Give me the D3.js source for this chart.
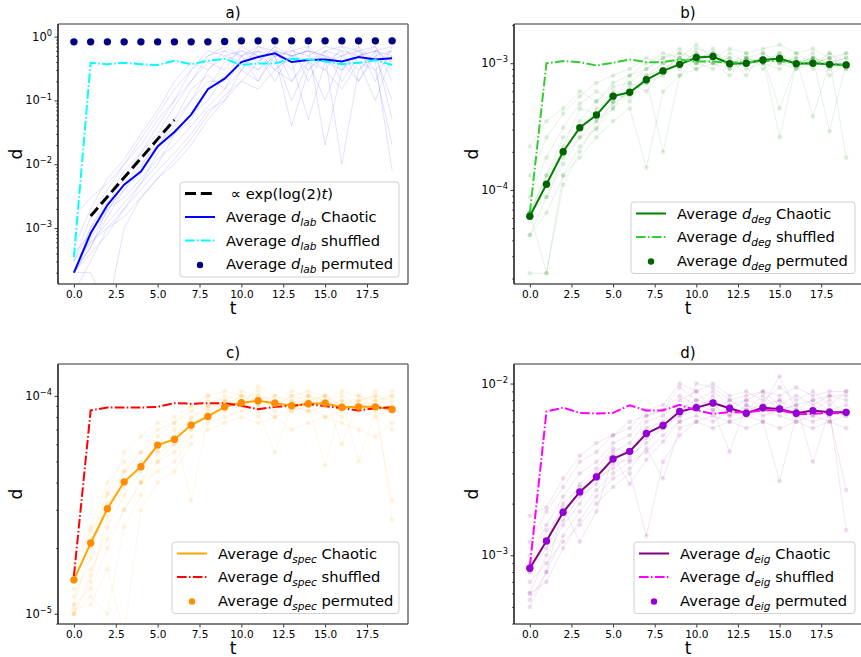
<!DOCTYPE html>
<html>
<head>
<meta charset="utf-8">
<script src="https://cdn.jsdelivr.net/npm/d3@7/dist/d3.min.js"></script>
<style>
  body { margin: 0; background: #fff; }
  text { font-family: "DejaVu Sans", sans-serif; fill: #000; white-space: pre; }
</style>
</head>
<body>
<div id="plot"></div>
<script>
// time steps and ticks
const tSteps = [0, 1, 2, 3, 4, 5, 6, 7, 8, 9, 10, 11, 12, 13, 14, 15, 16, 17, 18, 19];
const xTicks = [0, 2.5, 5, 7.5, 10, 12.5, 15, 17.5];
const panelTitles = ["a)", "b)", "c)", "d)"];
const distNames = ["lab", "deg", "spec", "eig"];

// a) label distance
const labChaotic = [2.0e-4, 8.3e-4, 2.3e-3, 4.8e-3, 7.7e-3, 1.9e-2, 3.2e-2, 6.0e-2, 0.15, 0.22,
                    0.40, 0.48, 0.55, 0.40, 0.43, 0.44, 0.41, 0.48, 0.44, 0.46];
const labShuffled = [3.5e-4, 0.39, 0.37, 0.39, 0.37, 0.36, 0.42, 0.37, 0.42, 0.45,
                     0.36, 0.38, 0.38, 0.45, 0.44, 0.41, 0.37, 0.39, 0.43, 0.36];
const labPermuted = [0.83, 0.83, 0.83, 0.83, 0.83, 0.83, 0.83, 0.83, 0.83, 0.84,
                     0.86, 0.86, 0.86, 0.86, 0.86, 0.86, 0.86, 0.86, 0.86, 0.86];
const labGuideT = [1, 2, 3, 4, 5, 6];
const labGuide = [1.55e-3, 3.1e-3, 6.2e-3, 1.24e-2, 2.48e-2, 4.96e-2];
const labRuns = [
  [2e-4, 5e-4, 1.5e-3, 4e-3, 9e-3, 2.5e-2, 5e-2, 0.1, 0.3, 0.5, 0.6, 0.4, 0.7, 0.5, 0.3, 0.6, 0.5, 0.7, 0.4, 0.6],
  [2e-4, 1e-3, 3e-3, 8e-3, 1.5e-2, 3e-2, 8e-2, 0.2, 0.4, 0.3, 0.7, 0.5, 0.2, 0.6, 0.7, 0.4, 0.3, 0.5, 0.7, 0.3],
  [4e-4, 8e-4, 2e-3, 3e-3, 6e-3, 1.2e-2, 2e-2, 4e-2, 8e-2, 0.15, 0.3, 0.6, 0.5, 0.1, 0.4, 0.6, 0.2, 0.5, 0.6, 0.5],
  [2e-4, 6e-4, 1.2e-3, 2.5e-3, 5e-3, 1e-2, 3e-2, 6e-2, 0.1, 0.25, 0.5, 0.7, 0.6, 0.3, 0.7, 0.02, 0.3, 0.6, 0.4, 0.008],
  [3e-4, 1.5e-3, 4e-3, 1e-2, 2e-2, 5e-2, 0.1, 0.3, 0.5, 0.6, 0.3, 0.7, 0.5, 0.6, 0.5, 0.7, 0.6, 0.2, 0.6, 0.7],
  [2e-4, 4e-4, 8e-4, 2e-3, 4e-3, 8e-3, 1.5e-2, 3e-2, 7e-2, 0.1, 0.2, 0.4, 0.7, 0.2, 0.5, 0.3, 0.7, 0.4, 0.1, 0.5],
  [5e-4, 2e-3, 6e-3, 1.2e-2, 3e-2, 7e-2, 0.2, 0.4, 0.3, 0.6, 0.5, 0.2, 0.6, 0.5, 0.6, 0.4, 0.6, 0.5, 0.6, 0.4],
  [2e-4, 7e-4, 1.8e-3, 5e-3, 1e-2, 2e-2, 4e-2, 0.1, 0.2, 0.2, 0.4, 0.3, 0.5, 0.04, 0.3, 0.5, 0.4, 0.2, 0.5, 0.1],
  [1e-4, 3e-4, 1e-3, 2e-3, 5e-3, 1.5e-2, 3e-2, 5e-2, 0.15, 0.4, 0.6, 0.5, 0.3, 0.5, 0.6, 0.5, 0.01, 0.3, 0.5, 0.6],
  [3e-4, 1e-3, 2.5e-3, 6e-3, 1.5e-2, 4e-2, 0.1, 0.2, 0.5, 0.7, 0.5, 0.6, 0.4, 0.7, 0.2, 0.6, 0.7, 0.6, 0.3, 0.5],
  [2e-4, 5e-4, 2e-3, 4e-3, 7e-3, 1.8e-2, 5e-2, 0.15, 0.25, 0.15, 0.5, 0.3, 0.6, 0.5, 0.4, 0.1, 0.5, 0.6, 0.7, 0.2],
  [1.5e-3, 3e-3, 5e-3, 1e-2, 2.5e-2, 6e-2, 0.15, 0.3, 0.6, 0.5, 0.4, 0.6, 0.3, 0.5, 0.6, 0.5, 0.3, 0.7, 0.2, 0.7],
  [2e-4, 2e-4, 5e-5, 1e-3, 3e-3, 6e-3, 1e-2, 2e-2, 5e-2, 0.1, 0.3, 0.2, 0.5, 0.4, 0.05, 0.4, 0.5, 0.3, 0.6, 0.05],
  [3e-4, 6e-4, 1e-3, 1.5e-3, 3e-3, 6e-3, 1.2e-2, 2.5e-2, 6e-2, 0.12, 0.2, 0.15, 0.3, 0.2, 0.4, 0.3, 0.15, 0.4, 0.3, 0.02]
];

// b) degree distance
const degChaotic = [6.2e-5, 1.11e-4, 2.0e-4, 3.1e-4, 3.9e-4, 5.5e-4, 5.9e-4, 7.4e-4, 8.7e-4, 9.8e-4,
                    1.11e-3, 1.13e-3, 9.9e-4, 1.0e-3, 1.06e-3, 1.09e-3, 9.9e-4, 1.0e-3, 9.8e-4, 9.7e-4];
const degShuffled = [6.6e-5, 1.0e-3, 1.04e-3, 1.02e-3, 9.6e-4, 1.01e-3, 1.07e-3, 1.02e-3, 1.02e-3, 1.07e-3,
                     1.03e-3, 1.03e-3, 1.01e-3, 1.02e-3, 1.04e-3, 1.04e-3, 1.0e-3, 1.01e-3, 9.9e-4, 9.7e-4];
const degPermuted = [6.2e-5, 1.11e-4, 2.0e-4, 3.1e-4, 3.9e-4, 5.5e-4, 5.9e-4, 7.4e-4, 8.7e-4, 9.8e-4,
                     1.11e-3, 1.13e-3, 9.9e-4, 1.0e-3, 1.06e-3, 1.09e-3, 9.9e-4, 1.0e-3, 9.8e-4, 9.7e-4];
const degRuns = [
  [6.6e-5, 1.3e-4, 2.6e-4, 3.5e-4, 5e-4, 6.5e-4, 7e-4, 9e-4, 1.1e-3, 1.2e-3, 1.0e-3, 1.3e-3, 9e-4, 1.1e-3, 1.0e-3, 1.2e-3, 9e-4, 1.1e-3, 1.0e-3, 1.1e-3],
  [4.4e-5, 8.8e-5, 1.8e-4, 2.6e-4, 3.5e-4, 4.8e-4, 6e-4, 7e-4, 8e-4, 1.0e-3, 1.2e-3, 1.0e-3, 1.1e-3, 8e-4, 1.2e-3, 1.0e-3, 1.1e-3, 9e-4, 1.2e-3, 9e-4],
  [6.6e-5, 1.1e-4, 2.2e-4, 4.4e-4, 4e-4, 6e-4, 5e-4, 8e-4, 1.0e-3, 9e-4, 1.3e-3, 1.2e-3, 1.0e-3, 1.2e-3, 9e-4, 1.1e-3, 1.0e-3, 1.2e-3, 8e-4, 1.0e-3],
  [2.2e-5, 2.2e-5, 1.3e-4, 2.2e-4, 3.1e-4, 5e-4, 7e-4, 6e-4, 9e-4, 1.1e-3, 1.0e-3, 9e-4, 1.2e-3, 1.0e-3, 1.1e-3, 4.4e-4, 1.0e-3, 1.1e-3, 1.0e-3, 1.2e-3],
  [8.8e-5, 1.8e-4, 3.1e-4, 4.8e-4, 6e-4, 5e-4, 8e-4, 1.0e-3, 1.2e-3, 1.1e-3, 9e-4, 1.1e-3, 1.0e-3, 1.1e-3, 1.2e-3, 1.0e-3, 9e-4, 1.0e-3, 1.1e-3, 9e-4],
  [6.6e-5, 8.8e-5, 1.6e-4, 2.6e-4, 3e-4, 4.4e-4, 6.6e-4, 7.5e-4, 2e-4, 8e-4, 1.1e-3, 1.0e-3, 9e-4, 1.0e-3, 1.1e-3, 1.0e-3, 1.1e-3, 3.8e-4, 1.0e-3, 1.1e-3],
  [1.3e-4, 2.6e-4, 4e-4, 5.5e-4, 7e-4, 8e-4, 9e-4, 1.1e-3, 1.0e-3, 1.2e-3, 1.1e-3, 1.2e-3, 1.1e-3, 9e-4, 1.0e-3, 1.2e-3, 1.0e-3, 1.1e-3, 9e-4, 1.0e-3],
  [4.4e-5, 6.6e-5, 1.3e-4, 1.8e-4, 2.6e-4, 3.5e-4, 4.4e-4, 1.5e-4, 6e-4, 8e-4, 9e-4, 1.0e-3, 8e-4, 1.1e-3, 1.0e-3, 9e-4, 1.2e-3, 1.0e-3, 1.1e-3, 1.8e-4],
  [6.6e-5, 1.3e-4, 2e-4, 3.1e-4, 4.4e-4, 5.5e-4, 5.5e-4, 8e-4, 9e-4, 1.0e-3, 1.2e-3, 1.1e-3, 1.0e-3, 1.0e-3, 1.1e-3, 2.6e-4, 1.0e-3, 1.1e-3, 2.9e-4, 1.0e-3],
  [2.2e-4, 3.5e-4, 4.4e-4, 6e-4, 5e-4, 7e-4, 8e-4, 9e-4, 1.1e-3, 1.3e-3, 1.0e-3, 1.2e-3, 1.0e-3, 1.1e-3, 1.0e-3, 1.1e-3, 1.0e-3, 1.0e-3, 1.2e-3, 1.0e-3],
  [6.6e-5, 2.2e-5, 1.1e-4, 2e-4, 3.5e-4, 4.4e-4, 6e-4, 7e-4, 8.8e-4, 1.1e-3, 1.4e-3, 1.1e-3, 1.3e-3, 1.2e-3, 1.3e-3, 1.4e-3, 1.2e-3, 1.3e-3, 1.1e-3, 1.2e-3]
];

// c) spectral distance
const specChaotic = [1.43e-5, 2.11e-5, 3.03e-5, 4.03e-5, 4.73e-5, 5.94e-5, 6.31e-5, 7.34e-5, 8.04e-5, 8.9e-5,
                     9.3e-5, 9.5e-5, 9.25e-5, 9.0e-5, 9.2e-5, 9.25e-5, 8.87e-5, 8.9e-5, 8.9e-5, 8.65e-5];
const specShuffled = [1.49e-5, 8.57e-5, 8.85e-5, 8.85e-5, 8.83e-5, 8.9e-5, 9.25e-5, 9.2e-5, 9.25e-5, 9.25e-5,
                      9.0e-5, 8.68e-5, 8.9e-5, 9.0e-5, 9.15e-5, 8.97e-5, 8.78e-5, 8.57e-5, 8.78e-5, 8.87e-5];
const specPermuted = [1.43e-5, 2.11e-5, 3.03e-5, 4.03e-5, 4.73e-5, 5.94e-5, 6.31e-5, 7.34e-5, 8.04e-5, 8.9e-5,
                      9.3e-5, 9.5e-5, 9.25e-5, 9.0e-5, 9.2e-5, 9.25e-5, 8.87e-5, 8.9e-5, 8.9e-5, 8.65e-5];
const specRuns = [
  [1.0e-5, 1.5e-5, 2.5e-5, 3.5e-5, 4.5e-5, 6e-5, 6.5e-5, 8e-5, 9e-5, 1.0e-4, 9.5e-5, 1.05e-4, 9e-5, 1.0e-4, 9.5e-5, 1.0e-4, 9e-5, 9.5e-5, 1.0e-4, 9.5e-5],
  [1.1e-5, 2e-5, 3e-5, 4.5e-5, 5.5e-5, 6.5e-5, 7.5e-5, 8.5e-5, 9.5e-5, 9e-5, 1.0e-4, 9e-5, 9.5e-5, 8.5e-5, 1.0e-4, 9e-5, 8e-5, 9.5e-5, 9e-5, 1.0e-4],
  [1.5e-5, 2.5e-5, 4e-5, 5e-5, 4e-5, 5.5e-5, 6e-5, 7e-5, 8.5e-5, 9.5e-5, 1.05e-4, 1.0e-4, 8.5e-5, 9.5e-5, 9e-5, 4.8e-5, 9.5e-5, 8.5e-5, 9e-5, 9e-5],
  [1.0e-5, 1.2e-5, 1.0e-5, 2.5e-5, 3.5e-5, 5e-5, 5.5e-5, 7e-5, 8e-5, 8.5e-5, 9e-5, 8e-5, 9.5e-5, 9e-5, 8.5e-5, 9e-5, 9.5e-5, 5e-5, 8.5e-5, 3.3e-5],
  [1.2e-5, 1.8e-5, 3.5e-5, 4.5e-5, 5.5e-5, 7e-5, 7.5e-5, 9e-5, 1.0e-4, 9.5e-5, 9e-5, 1.1e-4, 1.0e-4, 9.5e-5, 1.0e-4, 9.5e-5, 1.0e-4, 9e-5, 9.5e-5, 9e-5],
  [1.3e-5, 1.6e-5, 2.2e-5, 3e-5, 4e-5, 4.5e-5, 5e-5, 6.5e-5, 7.5e-5, 8e-5, 8.5e-5, 9e-5, 8e-5, 8.5e-5, 9e-5, 8e-5, 8.5e-5, 9e-5, 8e-5, 7e-5],
  [1.0e-5, 1.4e-5, 2.8e-5, 3.8e-5, 5e-5, 6e-5, 7e-5, 3.3e-5, 8e-5, 9e-5, 1.0e-4, 9.5e-5, 9e-5, 1.0e-4, 1.05e-4, 1.0e-4, 9e-5, 1.0e-4, 9.5e-5, 1.0e-4],
  [1.7e-5, 2.4e-5, 3.2e-5, 4e-5, 4.8e-5, 5.6e-5, 6.5e-5, 7.8e-5, 8.8e-5, 9.5e-5, 9e-5, 9.5e-5, 1.0e-4, 9e-5, 9.5e-5, 1.0e-4, 6e-5, 9.5e-5, 1.0e-4, 2.7e-5],
  [1.1e-5, 1.3e-5, 2e-5, 3e-5, 4e-5, 5e-5, 6e-5, 7.5e-5, 9e-5, 9e-5, 9.5e-5, 8.5e-5, 5.5e-5, 9e-5, 8.5e-5, 9e-5, 9e-5, 8.5e-5, 1.05e-4, 8.5e-5],
  [1.4e-5, 2.2e-5, 3.6e-5, 5.5e-5, 6.5e-5, 7.5e-5, 8e-5, 9e-5, 1.0e-4, 1.05e-4, 1.0e-4, 1.0e-4, 9.5e-5, 1.05e-4, 1.0e-4, 9.5e-5, 1.05e-4, 1.0e-4, 9e-5, 1.05e-4],
  [1.05e-5, 1.1e-5, 1.6e-5, 8e-6, 3e-5, 4e-5, 4.5e-5, 6e-5, 7e-5, 7.5e-5, 8e-5, 7.5e-5, 8e-5, 7e-5, 7.5e-5, 8e-5, 7.5e-5, 7e-5, 6.5e-5, 7.5e-5]
];

// d) eigenvalue distance
const eigChaotic = [8.4e-4, 1.21e-3, 1.78e-3, 2.34e-3, 2.86e-3, 3.64e-3, 4.03e-3, 5.12e-3, 5.7e-3, 6.87e-3,
                    7.24e-3, 7.71e-3, 7.18e-3, 6.72e-3, 7.24e-3, 7.11e-3, 6.72e-3, 6.96e-3, 6.81e-3, 6.8e-3];
const eigShuffled = [8.6e-4, 6.87e-3, 7.24e-3, 6.75e-3, 6.69e-3, 6.75e-3, 7.48e-3, 6.96e-3, 6.99e-3, 7.51e-3,
                     6.99e-3, 6.66e-3, 6.81e-3, 6.8e-3, 6.99e-3, 6.99e-3, 6.66e-3, 6.66e-3, 6.75e-3, 6.69e-3];
const eigPermuted = [8.4e-4, 1.21e-3, 1.78e-3, 2.34e-3, 2.86e-3, 3.64e-3, 4.03e-3, 5.12e-3, 5.7e-3, 6.87e-3,
                     7.24e-3, 7.71e-3, 7.18e-3, 6.72e-3, 7.24e-3, 7.11e-3, 6.72e-3, 6.96e-3, 6.81e-3, 6.8e-3];
const eigRuns = [
  [8e-4, 1.2e-3, 2e-3, 2.5e-3, 3e-3, 4e-3, 4.5e-3, 6e-3, 6.5e-3, 8e-3, 9e-3, 7e-3, 8e-3, 7e-3, 8.5e-3, 7e-3, 7.5e-3, 8e-3, 7e-3, 7.5e-3],
  [6e-4, 1e-3, 1.5e-3, 2e-3, 2.8e-3, 3.2e-3, 3.8e-3, 4.5e-3, 5.5e-3, 6.5e-3, 7e-3, 8.5e-3, 6.5e-3, 7.5e-3, 7e-3, 8e-3, 6.5e-3, 7e-3, 8e-3, 6.5e-3],
  [1e-3, 1.5e-3, 2.2e-3, 3e-3, 3.5e-3, 4.5e-3, 5e-3, 6.5e-3, 7e-3, 9.5e-3, 8e-3, 9e-3, 7.5e-3, 8e-3, 9e-3, 7.5e-3, 8.5e-3, 7.5e-3, 8.5e-3, 8e-3],
  [5e-4, 8e-4, 1.3e-3, 1.8e-3, 2.4e-3, 3e-3, 3.5e-3, 4e-3, 5e-3, 6e-3, 6.5e-3, 6e-3, 7e-3, 6.5e-3, 6e-3, 2.7e-3, 6.5e-3, 6e-3, 6.5e-3, 2.4e-3],
  [9e-4, 1.4e-3, 1.8e-3, 2.6e-3, 3.2e-3, 4.2e-3, 4e-3, 5.5e-3, 6e-3, 7e-3, 8e-3, 7.5e-3, 6.5e-3, 7e-3, 7.5e-3, 8e-3, 7e-3, 6.5e-3, 7e-3, 7e-3],
  [7e-4, 9e-4, 1.2e-3, 1.5e-3, 2e-3, 2.5e-3, 3e-3, 1.3e-3, 3.5e-3, 5e-3, 6e-3, 6.5e-3, 6e-3, 6.5e-3, 7e-3, 6.5e-3, 6e-3, 6.5e-3, 6e-3, 6.5e-3],
  [1.2e-3, 1.8e-3, 2.5e-3, 3.5e-3, 4e-3, 5e-3, 5.5e-3, 7e-3, 7.5e-3, 1e-2, 9e-3, 1e-2, 8.5e-3, 9e-3, 8e-3, 9.5e-3, 8e-3, 9e-3, 7.5e-3, 9e-3],
  [8e-4, 1.1e-3, 1.6e-3, 2.2e-3, 2.6e-3, 3.4e-3, 3.6e-3, 4.8e-3, 5.5e-3, 6.5e-3, 7.5e-3, 7e-3, 4e-3, 7.5e-3, 6.5e-3, 7e-3, 7.5e-3, 3.5e-3, 7e-3, 1.4e-3],
  [1.7e-3, 1.9e-3, 2.8e-3, 3.8e-3, 4.5e-3, 5e-3, 6e-3, 6.5e-3, 7e-3, 8.5e-3, 7.5e-3, 8e-3, 7e-3, 8e-3, 7.5e-3, 1.1e-2, 7e-3, 8e-3, 8.5e-3, 8.5e-3],
  [6e-4, 7e-4, 1.1e-3, 1.6e-3, 2.2e-3, 2.8e-3, 3.2e-3, 4.2e-3, 2.8e-3, 5.5e-3, 6e-3, 5.5e-3, 6e-3, 5.5e-3, 6e-3, 5.5e-3, 6e-3, 5.5e-3, 6e-3, 5.5e-3],
  [5.5e-4, 8e-4, 1.9e-3, 1.2e-3, 1.8e-3, 3.8e-3, 2.6e-3, 3.6e-3, 4.6e-3, 6e-3, 1e-2, 9.5e-3, 8e-3, 8.5e-3, 9e-3, 8.5e-3, 9.5e-3, 8.5e-3, 9e-3, 9e-3]
];

const svg = d3.select("#plot")
  .append("svg")
  .attr("width", 861)
  .attr("height", 657);

var panels = [
  {left: 58, right: 408, top: 24, bottom: 284, yDomain: [1.33e-4, 1.58],
   runs: labRuns, runMarkers: false, runColor: "blue",
   chaotic: labChaotic, shuffled: labShuffled, permuted: labPermuted,
   cChaotic: "blue", cShuffled: "cyan", cPermuted: "navy",
   legend: {x: 180, y: 182, w: 219, guide: true}},
  {left: 514, right: 862, top: 24, bottom: 284, yDomain: [1.81e-5, 2.04e-3],
   runs: degRuns, runMarkers: true, runColor: "green",
   chaotic: degChaotic, shuffled: degShuffled, permuted: degPermuted,
   cChaotic: "green", cShuffled: "limegreen", cPermuted: "darkgreen",
   legend: {x: 631, y: 202, w: 224}},
  {left: 58, right: 408, top: 364, bottom: 624, yDomain: [8.97e-6, 1.4e-4],
   runs: specRuns, runMarkers: true, runColor: "orange",
   chaotic: specChaotic, shuffled: specShuffled, permuted: specPermuted,
   cChaotic: "orange", cShuffled: "red", cPermuted: "darkorange",
   legend: {x: 172, y: 542, w: 227}},
  {left: 514, right: 862, top: 364, bottom: 624, yDomain: [3.98e-4, 1.30e-2],
   runs: eigRuns, runMarkers: true, runColor: "purple",
   chaotic: eigChaotic, shuffled: eigShuffled, permuted: eigPermuted,
   cChaotic: "purple", cShuffled: "magenta", cPermuted: "darkviolet",
   legend: {x: 634, y: 542, w: 221}}
];

const dashDot = "9.6,2.4,1.5,2.4";
const legendFont = 14.7;

// writes text with italic / sub / superscript pieces
function richText(sel, parts, base) {
  var shift = 0;
  parts.forEach(function(p) {
    var ts = sel.append("tspan").text(p.t);
    var want = p.sub ? base * 0.28 : (p.sup ? -base * 0.42 : 0);
    if (want !== shift) { ts.attr("dy", want - shift); shift = want; }
    if (p.sub || p.sup) ts.attr("font-size", base * 0.72);
    if (p.it) ts.attr("font-style", "italic");
  });
}

function drawPanel(p, i) {
  var x = d3.scaleLinear().domain([-0.95, 19.95]).range([p.left, p.right]);
  var y = d3.scaleLog().domain(p.yDomain).range([p.bottom, p.top]);
  var line = d3.line().x(function(d, j) { return x(tSteps[j]); }).y(function(d) { return y(d); });

  var g = svg.append("g");
  g.append("clipPath").attr("id", "clip" + i)
    .append("rect")
    .attr("x", p.left).attr("y", p.top)
    .attr("width", p.right - p.left).attr("height", p.bottom - p.top);

  var plot = g.append("g").attr("clip-path", "url(#clip" + i + ")");

  // individual runs
  p.runs.forEach(function(r) {
    plot.append("path")
      .attr("d", line(r))
      .attr("fill", "none")
      .attr("stroke", p.runColor)
      .attr("stroke-opacity", i === 0 ? 0.12 : 0.1)
      .attr("stroke-width", 1);
    if (p.runMarkers) {
      plot.append("g").selectAll("circle")
        .data(r)
        .enter()
        .append("circle")
          .attr("cx", function(d, j) { return x(tSteps[j]); })
          .attr("cy", function(d) { return y(d); })
          .attr("r", 2.3)
          .attr("fill", p.runColor)
          .attr("fill-opacity", 0.13);
    }
  });

  if (i === 0) {
    var guideLine = d3.line().x(function(d, j) { return x(labGuideT[j]); }).y(function(d) { return y(d); });
    plot.append("path")
      .attr("d", guideLine(labGuide))
      .attr("fill", "none")
      .attr("stroke", "black")
      .attr("stroke-width", 3)
      .attr("stroke-dasharray", "11,4.8");
  }

  plot.append("path")
    .attr("d", line(p.chaotic))
    .attr("fill", "none")
    .attr("stroke", p.cChaotic)
    .attr("stroke-width", 2);

  plot.append("path")
    .attr("d", line(p.shuffled))
    .attr("fill", "none")
    .attr("stroke", p.cShuffled)
    .attr("stroke-width", 2)
    .attr("stroke-dasharray", dashDot);

  plot.append("g").selectAll("circle")
    .data(p.permuted)
    .enter()
    .append("circle")
      .attr("cx", function(d, j) { return x(tSteps[j]); })
      .attr("cy", function(d) { return y(d); })
      .attr("r", 3.7)
      .attr("fill", p.cPermuted);

  // x axis
  var xAxis = g.append("g")
    .attr("transform", "translate(0," + p.bottom + ")")
    .call(d3.axisBottom(x).tickValues(xTicks).tickFormat(d3.format(".1f")).tickSize(3.5).tickPadding(3));
  xAxis.select(".domain").remove();
  xAxis.selectAll("text").attr("font-size", 10.5).attr("font-family", "DejaVu Sans").attr("fill", "#000");
  xAxis.selectAll("line").attr("stroke", "#000").attr("stroke-width", 0.8);

  // y axis, minor and major ticks
  var lo = Math.ceil(Math.log10(p.yDomain[0])), hi = Math.floor(Math.log10(p.yDomain[1]));
  var majors = d3.range(lo, hi + 1).map(function(k) { return Math.pow(10, k); });
  var minors = [];
  d3.range(lo - 1, hi + 1).forEach(function(k) {
    [2, 3, 4, 5, 6, 7, 8, 9].forEach(function(m) {
      var v = m * Math.pow(10, k);
      if (v > p.yDomain[0] && v < p.yDomain[1]) minors.push(v);
    });
  });
  var yMinor = g.append("g")
    .attr("transform", "translate(" + p.left + ",0)")
    .call(d3.axisLeft(y).tickValues(minors).tickFormat("").tickSize(2));
  yMinor.select(".domain").remove();
  yMinor.selectAll("line").attr("stroke", "#000").attr("stroke-width", 0.6);
  var yMajor = g.append("g")
    .attr("transform", "translate(" + p.left + ",0)")
    .call(d3.axisLeft(y).tickValues(majors).tickFormat("").tickSize(3.5));
  yMajor.select(".domain").remove();
  yMajor.selectAll("line").attr("stroke", "#000").attr("stroke-width", 0.8);

  majors.forEach(function(v) {
    var k = Math.round(Math.log10(v));
    var t = g.append("text")
      .attr("x", p.left - 6)
      .attr("y", y(v) + 4)
      .attr("text-anchor", "end")
      .attr("font-size", 11.5);
    richText(t, [{t: "10"}, {t: k === 0 ? "0" : "\u2212" + (-k), sup: true}], 11.5);
  });

  // frame
  g.append("line").attr("x1", p.left).attr("x2", p.right).attr("y1", p.top).attr("y2", p.top)
    .attr("stroke", "#777").attr("stroke-width", 1.6);
  g.append("line").attr("x1", p.right).attr("x2", p.right).attr("y1", p.top).attr("y2", p.bottom)
    .attr("stroke", "#777").attr("stroke-width", 1.6);
  g.append("line").attr("x1", p.left).attr("x2", p.right).attr("y1", p.bottom).attr("y2", p.bottom)
    .attr("stroke", "#555").attr("stroke-width", 1.6);
  g.append("line").attr("x1", p.left).attr("x2", p.left).attr("y1", p.top).attr("y2", p.bottom)
    .attr("stroke", "#222").attr("stroke-width", 1.6);

  // titles
  g.append("text")
    .attr("x", (p.left + p.right) / 2)
    .attr("y", p.top - 6)
    .attr("text-anchor", "middle")
    .attr("font-size", 15)
    .text(panelTitles[i]);
  g.append("text")
    .attr("x", (p.left + p.right) / 2)
    .attr("y", p.bottom + 30)
    .attr("text-anchor", "middle")
    .attr("font-size", 17)
    .text("t");
  g.append("text")
    .attr("transform", "translate(" + (p.left - 36) + "," + ((p.top + p.bottom) / 2) + ") rotate(-90)")
    .attr("text-anchor", "middle")
    .attr("font-size", 17)
    .text("d");

  // legend
  var name = distNames[i];
  var entries = [];
  if (p.legend.guide) {
    entries.push({kind: "dash", color: "black",
      parts: [{t: " \u221D exp(log(2)"}, {t: "t", it: true}, {t: ")"}]});
  }
  entries.push({kind: "solid", color: p.cChaotic,
    parts: [{t: "Average "}, {t: "d", it: true}, {t: name, sub: true, it: true}, {t: " Chaotic"}]});
  entries.push({kind: "dashdot", color: p.cShuffled,
    parts: [{t: "Average "}, {t: "d", it: true}, {t: name, sub: true, it: true}, {t: " shuffled"}]});
  entries.push({kind: "dot", color: p.cPermuted,
    parts: [{t: "Average "}, {t: "d", it: true}, {t: name, sub: true, it: true}, {t: " permuted"}]});

  var L = p.legend, rowH = 23.5;
  var lg = g.append("g");
  lg.append("rect")
    .attr("x", L.x).attr("y", L.y)
    .attr("width", L.w).attr("height", entries.length * rowH + 1)
    .attr("rx", 3)
    .attr("fill", "white").attr("fill-opacity", 0.8)
    .attr("stroke", "#d0d0d0").attr("stroke-width", 1);
  entries.forEach(function(e, j) {
    var cy = L.y + 11.5 + j * rowH;
    if (e.kind === "dot") {
      lg.append("circle").attr("cx", L.x + 20).attr("cy", cy + 1).attr("r", 3.2).attr("fill", e.color);
    } else {
      var h = lg.append("line")
        .attr("x1", L.x + 5).attr("x2", L.x + 35).attr("y1", cy).attr("y2", cy)
        .attr("stroke", e.color)
        .attr("stroke-width", e.kind === "dash" ? 3 : 2);
      if (e.kind === "dash") h.attr("stroke-dasharray", "11,4.8");
      if (e.kind === "dashdot") h.attr("stroke-dasharray", dashDot);
    }
    var t = lg.append("text")
      .attr("x", L.x + 46)
      .attr("y", cy + 5)
      .attr("font-size", legendFont);
    richText(t, e.parts, legendFont);
  });
}

panels.forEach(drawPanel);
</script>
</body>
</html>
